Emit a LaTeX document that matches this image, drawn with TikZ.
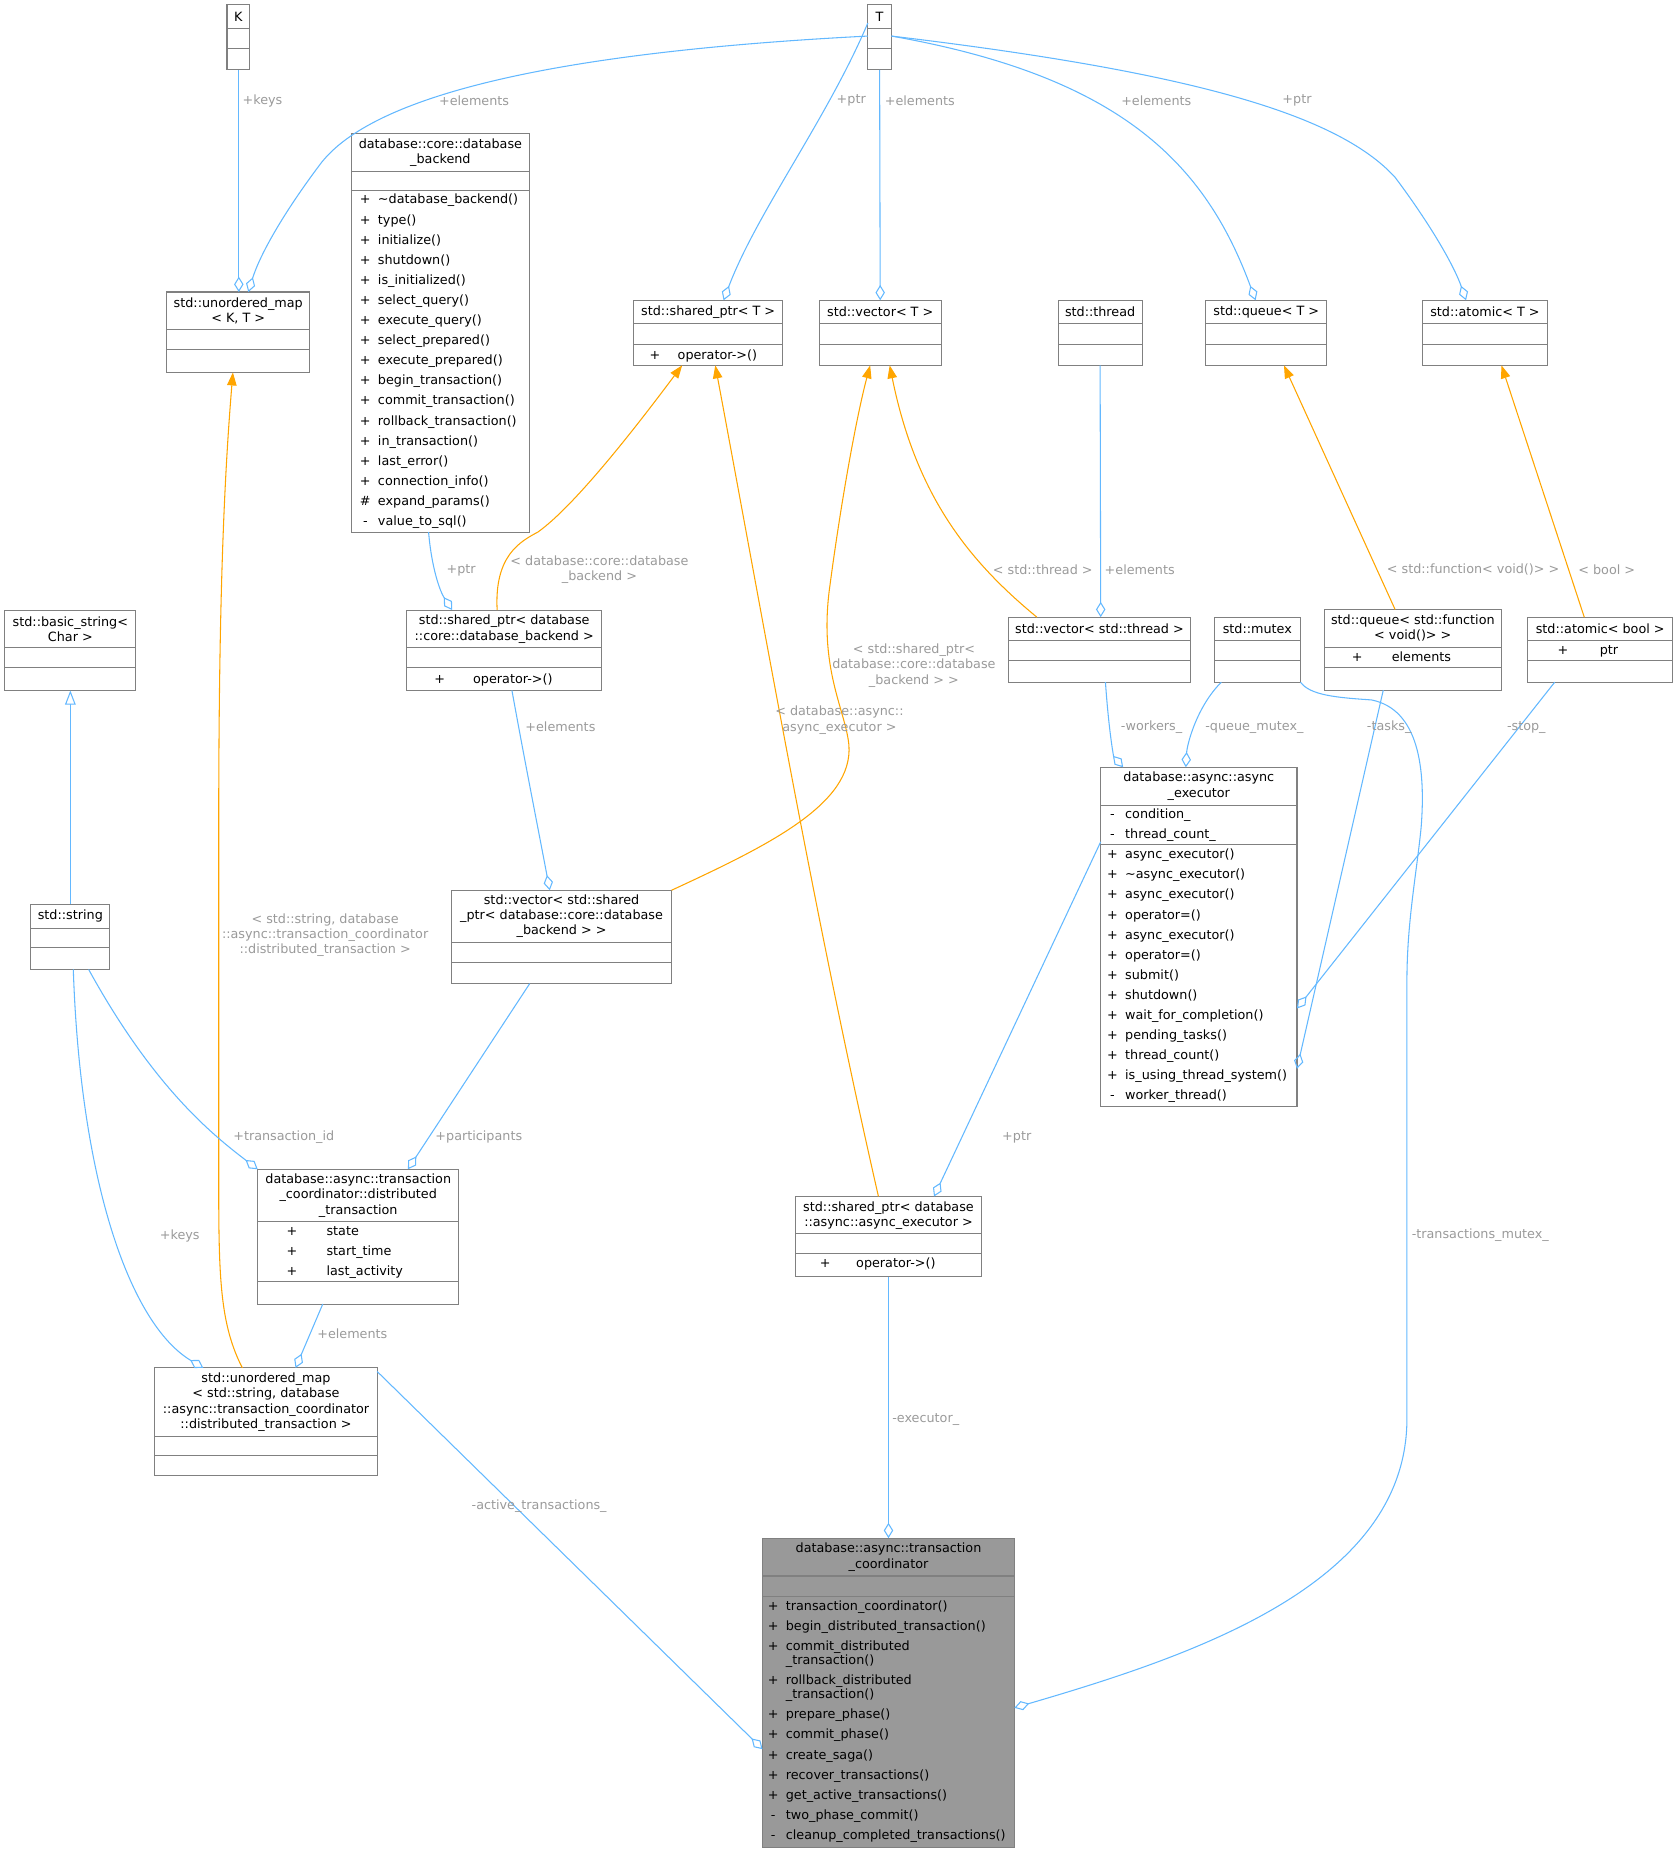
\documentclass[tikz,border=0pt]{standalone}
\usepackage{fontspec}
\setmainfont{DejaVu Sans}
\usetikzlibrary{arrows.meta}
\definecolor{eb}{HTML}{63B8FF}
\definecolor{eo}{HTML}{FFA500}
\definecolor{lg}{HTML}{9A9A9A}
\definecolor{bd}{HTML}{808080}
\newcommand\ubox[6][]{%
 \pgfmathsetmacro\bw{#5-#3}\pgfmathsetmacro\bh{#6-#4}%
 \pgfmathsetmacro\cx{(#3+#5)/2}\pgfmathsetmacro\cy{(#4+#6)/2}%
 \node[box,#1,minimum width=\bw pt,minimum height=\bh pt] (#2) at (\cx,\cy) {};}
\newcommand\seps[3]{\foreach \s in {#3} \draw[bd,line width=0.9pt] (#1,\s) -- (#2,\s);}
\newcommand\ttl[3]{\node[txt,align=center] at (#1,#2) {#3};}
\newcommand\mem[4]{\node[txt,anchor=base] at (#1,#2+3.8) {#3};\node[txt,anchor=base west] at (#1+10.5,#2+3.8) {#4};}
\newcommand\att[5]{\node[txt,anchor=base] at (#1,#3+3.8) {#4};\node[txt,anchor=base west] at (#2,#3+3.8) {#5};}
\newcommand\lbl[3]{\node[lab,align=center] at (#1,#2) {#3};}
\begin{document}
\begin{tikzpicture}[x=1pt,y=-1pt,
 box/.style={draw=bd,line width=0.9pt,fill=white,inner sep=0pt,outer sep=0pt},
 txt/.style={font=\fontsize{10.8}{13}\selectfont,inner sep=0pt,text=black},
 lab/.style={font=\fontsize{10.8}{13}\selectfont,inner sep=0pt,text=lg},
 agg/.style={eb,line width=0.9pt,-{Diamond[open,length=13pt,width=8pt]}},
 inst/.style={eo,line width=0.9pt,-{Triangle[length=11pt,width=8pt]}},
 inh/.style={eb,line width=0.9pt,-{Triangle[open,fill=white,length=12pt,width=9pt]}}]
\useasboundingbox (0,0) rectangle (1420,1569);
% boxes
\ubox{K}{192}{4}{211}{59}\seps{192}{211}{24,41}\ttl{201.5}{14.5}{K}
\ubox{T}{734}{4}{754}{59}\seps{734}{754}{24,41}\ttl{744}{14.5}{T}
\ubox{umKT}{141}{247}{262}{315}\seps{141}{262}{279,296}\ttl{201.5}{263}{std::unordered\_map\\< K, T >}
\ubox{dbb}{297}{113}{448}{450}\seps{297}{448}{145,161}\ttl{372.5}{129}{database::core::database\\\_backend}
\mem{309}{168.7}{+}{\textasciitilde database\_backend()}
\mem{309}{185.7}{+}{type()}
\mem{309}{202.7}{+}{initialize()}
\mem{309}{219.7}{+}{shutdown()}
\mem{309}{236.7}{+}{is\_initialized()}
\mem{309}{253.7}{+}{select\_query()}
\mem{309}{270.7}{+}{execute\_query()}
\mem{309}{287.7}{+}{select\_prepared()}
\mem{309}{304.7}{+}{execute\_prepared()}
\mem{309}{321.7}{+}{begin\_transaction()}
\mem{309}{338.7}{+}{commit\_transaction()}
\mem{309}{355.7}{+}{rollback\_transaction()}
\mem{309}{372.7}{+}{in\_transaction()}
\mem{309}{389.7}{+}{last\_error()}
\mem{309}{406.7}{+}{connection\_info()}
\mem{309}{423.7}{\#}{expand\_params()}
\mem{309}{440.7}{-}{value\_to\_sql()}
\ubox{spT}{536}{254}{662}{309}\seps{536}{662}{274,291}\ttl{599}{264}{std::shared\_ptr< T >}
\att{554}{573}{300}{+}{operator->()}
\ubox{vT}{693}{254}{796}{309}\seps{693}{796}{274,291}\ttl{744.5}{264}{std::vector< T >}
\ubox{thr}{895}{254}{966}{309}\seps{895}{966}{274,291}\ttl{930.5}{264}{std::thread}
\ubox{qT}{1020}{254}{1122}{309}\seps{1020}{1122}{274,291}\ttl{1071}{264}{std::queue< T >}
\ubox{aT}{1203}{254}{1309}{309}\seps{1203}{1309}{274,291}\ttl{1256}{264}{std::atomic< T >}
\ubox{bstr}{4}{516}{115}{584}\seps{4}{115}{547.5,564.5}\ttl{59.5}{532}{std::basic\_string<\\Char >}
\ubox{spdb}{344}{516}{509}{584}\seps{344}{509}{547.5,564.5}\ttl{426.5}{532}{std::shared\_ptr< database\\::core::database\_backend >}
\att{372}{400}{574}{+}{operator->()}
\ubox{vthr}{853}{522}{1007}{577}\seps{853}{1007}{542,559}\ttl{930}{532}{std::vector< std::thread >}
\ubox{mtx}{1027}{522}{1100}{577}\seps{1027}{1100}{542,559}\ttl{1063.5}{532}{std::mutex}
\ubox{qf}{1120}{515.5}{1270}{583.7}\seps{1120}{1270}{547.7,564.6}\ttl{1195}{531}{std::queue< std::function\\< void()> >}
\att{1148}{1177}{555.5}{+}{elements}
\ubox{ab}{1292}{522}{1415}{577}\seps{1292}{1415}{542,559}\ttl{1353.5}{532}{std::atomic< bool >}
\att{1322}{1353}{549.5}{+}{ptr}
\ubox{str}{26}{765}{93}{820}\seps{26}{93}{785,801.6}\ttl{59.5}{775}{std::string}
\ubox{vsp}{382}{753}{568}{832}\seps{382}{568}{797,814}\ttl{475}{775}{std::vector< std::shared\\\_ptr< database::core::database\\\_backend > >}
\ubox{ae}{931}{649}{1097}{936}\seps{931}{1097}{681,714}\ttl{1014}{665}{database::async::async\\\_executor}
\mem{941}{688.5}{-}{condition\_}
\mem{941}{705.5}{-}{thread\_count\_}
\mem{941}{722.5}{+}{async\_executor()}
\mem{941}{739.5}{+}{\textasciitilde async\_executor()}
\mem{941}{756.5}{+}{async\_executor()}
\mem{941}{773.5}{+}{operator=()}
\mem{941}{790.5}{+}{async\_executor()}
\mem{941}{807.5}{+}{operator=()}
\mem{941}{824.5}{+}{submit()}
\mem{941}{841.5}{+}{shutdown()}
\mem{941}{858.5}{+}{wait\_for\_completion()}
\mem{941}{875.5}{+}{pending\_tasks()}
\mem{941}{892.5}{+}{thread\_count()}
\mem{941}{909.5}{+}{is\_using\_thread\_system()}
\mem{941}{926.5}{-}{worker\_thread()}
\ubox{dt}{218}{989}{388}{1103}\seps{218}{388}{1033,1084}\ttl{303}{1011}{database::async::transaction\\\_coordinator::distributed\\\_transaction}
\att{247}{276}{1041}{+}{state}
\att{247}{276}{1058}{+}{start\_time}
\att{247}{276}{1075}{+}{last\_activity}
\ubox{spae}{673}{1012}{830}{1080}\seps{673}{830}{1043,1060}\ttl{751.5}{1028}{std::shared\_ptr< database\\::async::async\_executor >}
\att{698}{724}{1068}{+}{operator->()}
\ubox{umst}{131}{1157}{319}{1248}\seps{131}{319}{1215,1231}\ttl{225}{1186}{std::unordered\_map\\< std::string, database\\::async::transaction\_coordinator\\::distributed\_transaction >}
\ubox[fill={rgb,255:red,153;green,153;blue,153}]{tc}{645}{1301}{858}{1563}\seps{645}{858}{1333,1350}\ttl{751.5}{1317}{database::async::transaction\\\_coordinator}
\mem{654}{1358}{+}{transaction\_coordinator()}
\mem{654}{1375}{+}{begin\_distributed\_transaction()}
\mem{654}{1392}{+}{commit\_distributed}
\node[txt,anchor=base west] at (664.5,1407.5) {\_transaction()};
\mem{654}{1421}{+}{rollback\_distributed}
\node[txt,anchor=base west] at (664.5,1436.5) {\_transaction()};
\mem{654}{1450}{+}{prepare\_phase()}
\mem{654}{1467}{+}{commit\_phase()}
\mem{654}{1484}{+}{create\_saga()}
\mem{654}{1501}{+}{recover\_transactions()}
\mem{654}{1518}{+}{get\_active\_transactions()}
\mem{654}{1535}{-}{two\_phase\_commit()}
\mem{654}{1552}{-}{cleanup\_completed\_transactions()}
% edges
\draw[agg] ([xshift=0.5]K.south) -- ([xshift=0.5]umKT.north);
\draw[agg] ([yshift=1]T.west) .. controls (450,45) and (310,85) .. (270,140) .. controls (240,180) and (220,215) .. ([xshift=8.5]umKT.north);
\draw[agg] ([yshift=12]T.west) .. controls (700,100) and (640,180) .. ([xshift=13]spT.north);
\draw[agg] (T.south) -- (vT.north);
\draw[agg] ([yshift=1]T.east) .. controls (950,65) and (1020,140) .. ([xshift=-9]qT.north);
\draw[agg] ([yshift=1]T.east) .. controls (1000,60) and (1130,95) .. (1180,150) .. controls (1210,190) and (1230,225) .. ([xshift=-16]aT.north);
\draw[agg] ([xshift=-10]dbb.south) .. controls (365,480) and (372,500) .. ([xshift=-44]spdb.north);
\draw[inst] ([xshift=-6]spdb.north) .. controls (418,470) and (440,458) .. (455,450) .. controls (490,425) and (550,345) .. ([xshift=-22]spT.south);
\draw[inst] ([xshift=-53]vthr.north) .. controls (820,475) and (775,420) .. ([xshift=8]vT.south);
\draw[agg] (thr.south) -- ([xshift=1]vthr.north);
\draw[inst] ([xshift=-15]qf.north) -- ([xshift=15]qT.south);
\draw[inst] ([xshift=-13.5]ab.north) -- ([xshift=14]aT.south);
\draw[inh] (str.north) -- (bstr.south);
\draw[agg] ([xshift=6.5]spdb.south) .. controls (445,650) and (455,700) .. ([xshift=-10]vsp.north);
\draw[inst] (vsp.north east) .. controls (650,715) and (722,680) .. (718,630) .. controls (715,600) and (692,565) .. (702,495) .. controls (712,420) and (725,350) .. ([xshift=-8.5]vT.south);
\draw[inst] ([xshift=-8.5]spae.north) .. controls (690,780) and (650,550) .. ([xshift=6]spT.south);
\draw[inst] ([xshift=-20]umst.north) .. controls (186,1120) and (185,1080) .. (185,1000) -- (185,700) .. controls (185,500) and (190,400) .. ([xshift=-4.5]umKT.south);
\draw[agg] ([xshift=5]vthr.south) .. controls (938,620) and (942,640) .. ([xshift=-64]ae.north);
\draw[agg] ([xshift=-30.5]mtx.south) .. controls (1012,598) and (1004,630) .. ([xshift=-11]ae.north);
\draw[agg] ([xshift=-25]qf.south) -- ([yshift=-111.5]ae.east);
\draw[agg] ([xshift=-38.5]ab.south) -- ([yshift=-60.5]ae.east);
\draw[agg] (mtx.south east) .. controls (1108,588) and (1130,590) .. (1160,592) .. controls (1200,600) and (1206,650) .. (1202,700) .. controls (1198,740) and (1190,780) .. (1190,830) -- (1190,1200) .. controls (1190,1340) and (1010,1400) .. ([yshift=-12.5]tc.east);
\draw[agg] ([xshift=15.5]str.south) .. controls (130,920) and (180,960) .. ([xshift=-85]dt.north);
\draw[agg] ([xshift=-27]vsp.south) -- ([xshift=42]dt.north);
\draw[agg] ([yshift=80.5]ae.west) -- ([xshift=38.5]spae.north);
\draw[agg] ([xshift=2.5]str.south) .. controls (68,1000) and (110,1120) .. ([xshift=-53]umst.north);
\draw[agg] ([xshift=-30]dt.south) -- ([xshift=25]umst.north);
\draw[agg] (spae.south) -- (tc.north);
\draw[agg] ([yshift=42.5]umst.east) -- ([yshift=-47.5]tc.west);
% labels
\lbl{222}{85}{+keys}
\lbl{401}{85}{+elements}
\lbl{720}{85}{+ptr}
\lbl{778}{85}{+elements}
\lbl{978}{85}{+elements}
\lbl{1097}{85}{+ptr}
\lbl{390}{482}{+ptr}
\lbl{507}{482}{< database::core::database\\\_backend >}
\lbl{882}{482}{< std::thread >}
\lbl{964}{482}{+elements}
\lbl{1246}{482}{< std::function< void()> >}
\lbl{1359}{482}{< bool >}
\lbl{474}{615}{+elements}
\lbl{773}{563}{< std::shared\_ptr<\\database::core::database\\\_backend > >}
\lbl{710}{609}{< database::async::\\async\_executor >}
\lbl{275}{791}{< std::string, database\\::async::transaction\_coordinator\\::distributed\_transaction >}
\lbl{974}{615}{-workers\_}
\lbl{1061}{615}{-queue\_mutex\_}
\lbl{1175}{615}{-tasks\_}
\lbl{1291}{615}{-stop\_}
\lbl{1252}{1045}{-transactions\_mutex\_}
\lbl{240}{962}{+transaction\_id}
\lbl{405}{962}{+participants}
\lbl{860}{962}{+ptr}
\lbl{152}{1045}{+keys}
\lbl{298}{1128}{+elements}
\lbl{783}{1201}{-executor\_}
\lbl{456}{1274}{-active\_transactions\_}
\end{tikzpicture}
\end{document}
